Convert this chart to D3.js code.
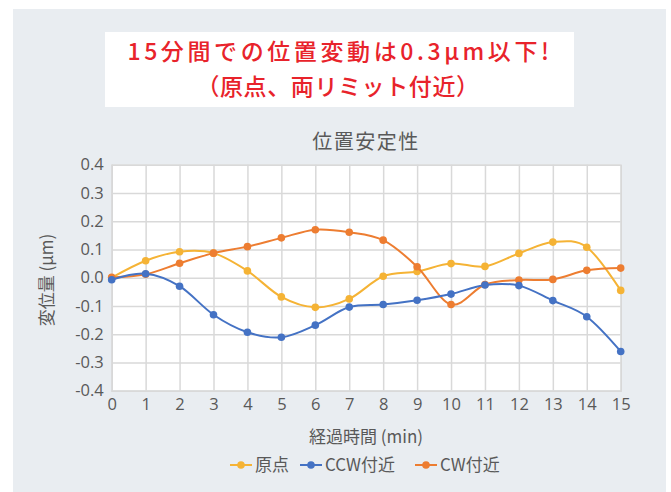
<!DOCTYPE html>
<html><head><meta charset="utf-8">
<script src="https://cdn.jsdelivr.net/npm/d3@7"></script>
<style>body{margin:0;background:#fff}svg{display:block}</style>
</head><body>
<script>
const minutes = [0,1,2,3,4,5,6,7,8,9,10,11,12,13,14,15];
const origin = [0.0,0.06,0.092,0.087,0.024,-0.068,-0.105,-0.075,0.005,0.022,0.05,0.04,0.086,0.126,0.108,-0.045];
const ccw = [-0.007,0.014,-0.03,-0.131,-0.193,-0.211,-0.168,-0.104,-0.095,-0.08,-0.058,-0.026,-0.028,-0.081,-0.138,-0.261];
const cw = [0.001,0.012,0.051,0.087,0.11,0.141,0.17,0.161,0.133,0.039,-0.095,-0.024,-0.008,-0.006,0.026,0.034];
const seriesNames = ["原点","CCW付近","CW付近"];
const seriesColors = ["#f5b335","#4472c4","#ed7d31"];
const yTicks = [-0.4,-0.3,-0.2,-0.1,0.0,0.1,0.2,0.3,0.4];
const headline1 = "15分間での位置変動は0.3μm以下!";
const headline2 = "（原点、両リミット付近）";
const chartTitle = "位置安定性";
const xTitle = "経過時間 (min)";
const yTitle = "変位量 (μm)";

const W = 671, H = 492;
const font = "'Noto Sans CJK JP','Noto Sans',sans-serif";
const numFont = "'Open Sans','Noto Sans CJK JP',sans-serif";
const svg = d3.select("body").append("svg").attr("width", W).attr("height", H);

svg.append("rect").attr("x",13).attr("y",9).attr("width",653).attr("height",483).attr("fill","#e9edf1");
svg.append("rect").attr("x",105).attr("y",32).attr("width",469).attr("height",75).attr("fill","#fff");

svg.append("text").attr("x",340).attr("y",60).attr("text-anchor","middle")
  .attr("font-family",font).attr("font-size",23).attr("font-weight",500)
  .attr("letter-spacing",3.6).attr("fill","#e8232b").text(headline1);
svg.append("text").attr("x",338).attr("y",95).attr("text-anchor","middle")
  .attr("font-family",font).attr("font-size",23).attr("font-weight",500)
  .attr("letter-spacing",0.6).attr("fill","#e8232b").text(headline2);

const x = d3.scaleLinear().domain([0,15]).range([111.7,620.7]);
const y = d3.scaleLinear().domain([-0.4,0.4]).range([390.7,164.7]);

svg.append("rect").attr("x",x(0)).attr("y",y(0.4)).attr("width",x(15)-x(0)).attr("height",y(-0.4)-y(0.4)).attr("fill","#fff");

const gx = svg.append("g").attr("transform",`translate(0,${y(-0.4)})`)
  .call(d3.axisBottom(x).tickValues(minutes).tickSize(-(y(-0.4)-y(0.4))).tickPadding(8).tickFormat(d3.format("d")));
const gy = svg.append("g").attr("transform",`translate(${x(0)},0)`)
  .call(d3.axisLeft(y).tickValues(yTicks).tickSize(-(x(15)-x(0))).tickPadding(8).tickFormat(d3.format(".1f")));
[gx,gy].forEach(g=>{
  g.select(".domain").attr("stroke","#d9d9d9").attr("stroke-width",1.5);
  g.selectAll(".tick line").attr("stroke","#d9d9d9").attr("stroke-width",1.5);
  g.selectAll(".tick text").attr("font-family",numFont).attr("font-size",16.5).attr("fill","#595959");
});
gy.selectAll(".tick text").text(d=>d3.format(".1f")(d).replace("−","-"));

svg.append("text").attr("x",366).attr("y",149).attr("text-anchor","middle")
  .attr("font-family",font).attr("font-size",20).attr("letter-spacing",1.5).attr("fill","#595959").text(chartTitle);
svg.append("text").attr("x",366).attr("y",443).attr("text-anchor","middle")
  .attr("font-family",font).attr("font-size",17).attr("fill","#595959").text(xTitle);
svg.append("text").attr("transform","translate(53,280) rotate(-90)").attr("text-anchor","middle")
  .attr("font-family",font).attr("font-size",17).attr("fill","#595959").text(yTitle);

const data = [origin, ccw, cw];
const line = d3.line().x((d,i)=>x(minutes[i])).y(d=>y(d)).curve(d3.curveCatmullRom.alpha(0));
[0,2,1].forEach(k=>{
  svg.append("path").attr("d",line(data[k])).attr("fill","none").attr("stroke",seriesColors[k]).attr("stroke-width",2);
  svg.append("g").selectAll("circle").data(data[k]).join("circle")
    .attr("cx",(d,i)=>x(minutes[i])).attr("cy",d=>y(d)).attr("r",3.8).attr("fill",seriesColors[k]);
});

const legX = [230,300,415];
seriesNames.forEach((n,k)=>{
  const g = svg.append("g").attr("transform",`translate(${legX[k]},465)`);
  g.append("line").attr("x1",0).attr("x2",22).attr("y1",0).attr("y2",0).attr("stroke",seriesColors[k]).attr("stroke-width",2);
  g.append("circle").attr("cx",11).attr("cy",0).attr("r",3.8).attr("fill",seriesColors[k]);
  g.append("text").attr("x",25).attr("y",6).attr("font-family",font).attr("font-size",17).attr("fill","#595959").text(n);
});
</script>
</body></html>
